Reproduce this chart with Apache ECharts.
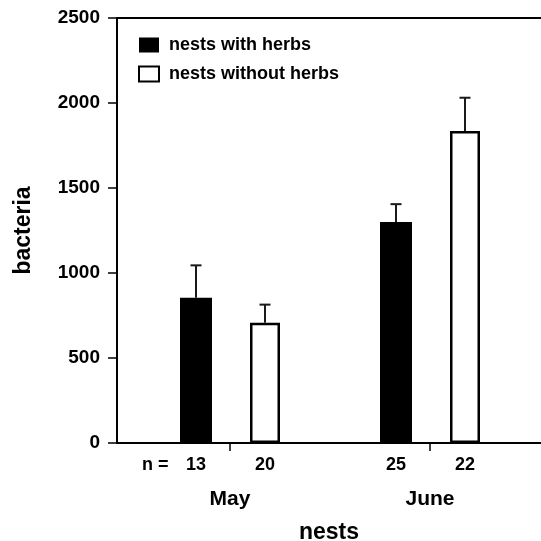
<!DOCTYPE html>
<html>
<head>
<meta charset="utf-8">
<script src="https://cdn.jsdelivr.net/npm/echarts@6/dist/echarts.min.js"></script>
<style>html,body{margin:0;padding:0;background:#fff}#c{width:541px;height:541px}</style>
</head>
<body>
<div id="c"></div>
<script>
// ---- data ----
const months = ['May', 'June'];
const seriesNames = ['nests with herbs', 'nests without herbs'];
const withHerbs = [855, 1300];
const withHerbsUpper = [1045, 1405];
const withoutHerbs = [708, 1835];
const withoutHerbsUpper = [814, 2031];
const nWith = [13, 25];
const nWithout = [20, 22];
const yTicks = [0, 500, 1000, 1500, 2000, 2500];

// ---- layout constants ----
const FONT = 'Liberation Sans, Arial, Helvetica, sans-serif';
const BAR_W = [32, 30];
const GAP = 38;
const total = BAR_W[0] + GAP + BAR_W[1];
const offsets = [-total / 2 + BAR_W[0] / 2, total / 2 - BAR_W[1] / 2];

const chart = echarts.init(document.getElementById('c'), null, {renderer: 'canvas'});

function errSeries(means, uppers, k) {
  return {
    type: 'custom',
    z: 5,
    silent: true,
    data: months.map((m, i) => [i, means[i], uppers[i]]),
    renderItem: function (params, api) {
      const i = api.value(0);
      const base = api.coord([i, api.value(1)]);
      const top = api.coord([i, api.value(2)]);
      const x = base[0] + offsets[k];
      const style = {stroke: '#1a1a1a', lineWidth: 2};
      return {
        type: 'group',
        children: [
          {type: 'line', shape: {x1: x, y1: base[1], x2: x, y2: top[1]}, style: style},
          {type: 'line', shape: {x1: x - 5.5, y1: top[1], x2: x + 5.5, y2: top[1]}, style: style}
        ]
      };
    }
  };
}

const option = {
  backgroundColor: '#fff',
  animation: false,
  textStyle: {fontFamily: FONT},
  grid: {left: 117, right: 0, top: 18, bottom: 98, outerBoundsMode: 'none', containLabel: false},
  legend: {
    orient: 'vertical',
    left: 133,
    top: 31,
    itemWidth: 20,
    itemHeight: 15,
    itemGap: 11,
    icon: 'rect',
    data: seriesNames,
    textStyle: {fontFamily: FONT, fontWeight: 'bold', fontSize: 18, color: '#000', padding: [0, 0, 0, 5]}
  },
  xAxis: [{
    type: 'value',
    min: -0.565,
    max: 1.555,
    position: 'bottom',
    splitLine: {show: false},
    axisLine: {show: true, onZero: false, lineStyle: {color: '#000', width: 2}},
    axisTick: {show: true, customValues: [0, 1], length: 8, inside: false, lineStyle: {color: '#000', width: 1.5}},
    axisLabel: {
      customValues: [0, 1],
      formatter: v => months[Math.round(v)],
      margin: 46,
      fontFamily: FONT, fontWeight: 'bold', fontSize: 21, color: '#000'
    },
    name: 'nests',
    nameLocation: 'middle',
    nameGap: 78,
    nameTextStyle: {fontFamily: FONT, fontWeight: 'bold', fontSize: 23, color: '#000'}
  }, {
    type: 'value',
    min: -0.565,
    max: 1.555,
    position: 'top',
    splitLine: {show: false},
    axisLine: {show: true, onZero: false, lineStyle: {color: '#000', width: 2}},
    axisTick: {show: false},
    axisLabel: {show: false}
  }],
  yAxis: {
    type: 'value',
    min: 0,
    max: 2500,
    interval: 500,
    position: 'left',
    splitLine: {show: false},
    axisLine: {show: true, onZero: false, lineStyle: {color: '#000', width: 2}},
    axisTick: {show: true, length: 9, inside: false, lineStyle: {color: '#000', width: 1.5}},
    axisLabel: {
      margin: 17,
      formatter: v => yTicks.indexOf(v) >= 0 ? String(v) : '',
      fontFamily: FONT, fontWeight: 'bold', fontSize: 19, color: '#000'
    },
    name: 'bacteria',
    nameLocation: 'middle',
    nameGap: 82,
    nameTextStyle: {fontFamily: FONT, fontWeight: 'bold', fontSize: 23, color: '#000'}
  },
  series: [{
    name: seriesNames[0],
    type: 'bar',
    barWidth: BAR_W[0],
    barGap: (GAP / BAR_W[0] * 100) + '%',
    data: months.map((m, i) => [i, withHerbs[i]]),
    itemStyle: {color: '#000'},
    label: {
      show: true, position: 'bottom', distance: 13,
      formatter: p => String(nWith[p.dataIndex]),
      fontFamily: FONT, fontWeight: 'bold', fontSize: 18, color: '#000'
    }
  }, {
    name: seriesNames[1],
    type: 'bar',
    barWidth: BAR_W[1],
    data: months.map((m, i) => [i, withoutHerbs[i]]),
    itemStyle: {color: '#fff', borderColor: '#000', borderWidth: 2.5},
    label: {
      show: true, position: 'bottom', distance: 13,
      formatter: p => String(nWithout[p.dataIndex]),
      fontFamily: FONT, fontWeight: 'bold', fontSize: 18, color: '#000'
    }
  },
  errSeries(withHerbs, withHerbsUpper, 0),
  errSeries(withoutHerbs, withoutHerbsUpper, 1)
  ],
  graphic: [{
    type: 'text',
    left: 142,
    top: 456,
    style: {text: 'n =', font: 'bold 18px ' + FONT, fill: '#000'}
  }]
};
chart.setOption(option);
</script>
</body>
</html>
